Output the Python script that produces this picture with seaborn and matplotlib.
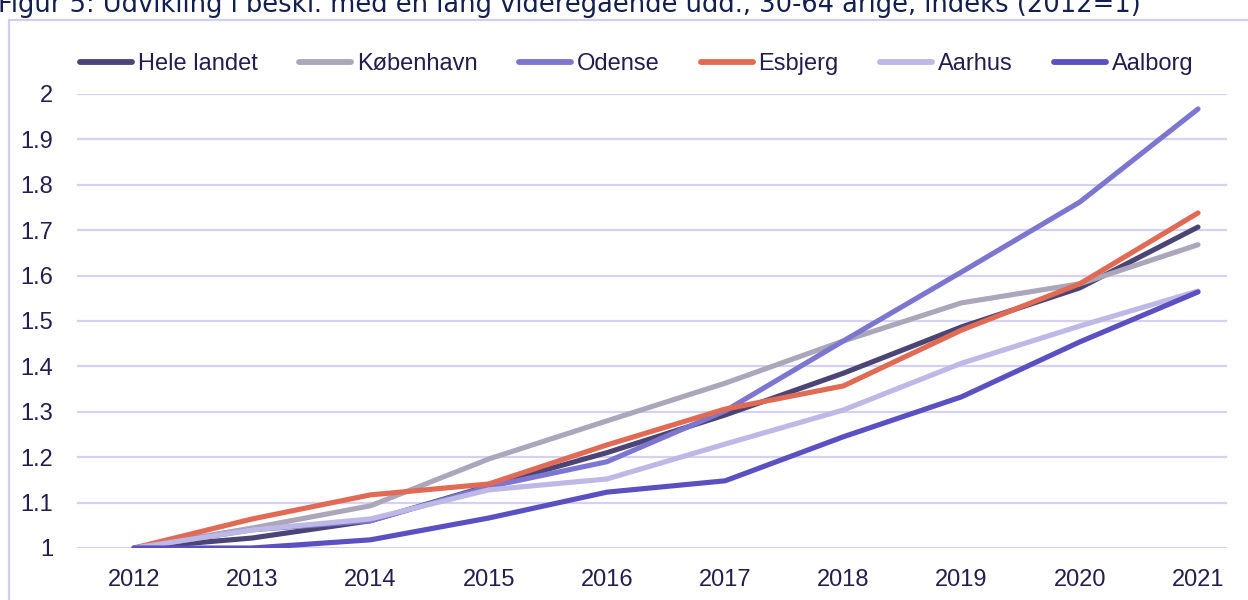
import numpy as np
import pandas as pd
import seaborn as sns
import matplotlib.pyplot as plt
from matplotlib.patches import Rectangle
from matplotlib.lines import Line2D
from matplotlib.ticker import FuncFormatter

# Data (index, 2012 = 1)
years = [2012, 2013, 2014, 2015, 2016, 2017, 2018, 2019, 2020, 2021]
hele_landet = [1.000, 1.022, 1.060, 1.137, 1.210, 1.293, 1.385, 1.487, 1.573, 1.707]
koebenhavn = [1.000, 1.044, 1.093, 1.196, 1.280, 1.363, 1.456, 1.540, 1.582, 1.668]
odense = [1.000, 1.040, 1.060, 1.135, 1.190, 1.302, 1.456, 1.608, 1.762, 1.967]
esbjerg = [1.000, 1.064, 1.117, 1.141, 1.227, 1.306, 1.357, 1.480, 1.582, 1.738]
aarhus = [1.000, 1.040, 1.064, 1.128, 1.152, 1.229, 1.304, 1.407, 1.489, 1.566]
aalborg = [1.000, 1.000, 1.018, 1.066, 1.123, 1.148, 1.245, 1.333, 1.454, 1.564]

series_names = ["Hele landet", "København", "Odense", "Esbjerg", "Aarhus", "Aalborg"]
series_values = [hele_landet, koebenhavn, odense, esbjerg, aarhus, aalborg]
colors = ["#4B4576", "#ABA6BA", "#7D76D0", "#E06A54", "#BDB8E5", "#5B50C2"]

title = "Figur 5: Udvikling i beskf. med en lang videregående udd., 30-64 årige, indeks (2012=1)"

df = pd.concat(
    [pd.DataFrame({"year": years, "value": v, "area": n}) for n, v in zip(series_names, series_values)],
    ignore_index=True,
)

sns.set_style("white")
plt.rcParams['font.family'] = ['Liberation Sans', 'DejaVu Sans']
text_col = "#221E4E"

fig = plt.figure(figsize=(12.48, 6), dpi=100)
ax = fig.add_axes([77 / 1248, 52 / 600, 1150 / 1248, 454 / 600])

palette = dict(zip(series_names, colors))
sns.lineplot(data=df, x="year", y="value", hue="area", palette=palette, hue_order=series_names,
             linewidth=3.7, ax=ax, legend=False, solid_capstyle="round", solid_joinstyle="round")

ax.set_xlim(2011.518, 2021.245)
ax.set_ylim(1, 2)
ax.set_xticks(years)
ax.set_yticks(np.arange(1.0, 2.01, 0.1))
ax.yaxis.set_major_formatter(FuncFormatter(lambda v, p: f"{round(v, 1):g}"))
ax.grid(axis="y", color="#D6D1F2", linewidth=1.6)
ax.grid(axis="x", visible=False)
ax.set_axisbelow(True)
for s in ax.spines.values():
    s.set_visible(False)
ax.tick_params(axis="both", length=0, labelsize=17, colors=text_col)
ax.tick_params(axis="y", pad=17)
ax.tick_params(axis="x", pad=15)
ax.set_xlabel("")
ax.set_ylabel("")

# legend on top
handles = [Line2D([0], [0], color=c, linewidth=4.2, solid_capstyle="round") for c in colors]
leg = fig.legend(handles, series_names, loc="center left", bbox_to_anchor=(80 / 1248, 1 - 64 / 600),
                 ncol=6, frameon=False, fontsize=17, handlelength=2.2, handletextpad=0.25,
                 columnspacing=1.75, borderpad=0, borderaxespad=0)
for t in leg.get_texts():
    t.set_color(text_col)

# figure frame (cut off like the reference)
fig.patches.append(Rectangle((9 / 1248, -0.1), 1.2, 1.1 - 20 / 600, transform=fig.transFigure,
                             fill=False, edgecolor="#D2CEF0", linewidth=1.6))

# title, cut off at the top edge as in the reference
fig.text(-0.002, 1 - 3 / 600, title, fontsize=18.5, color="#13204F", ha="left", va="center",
         family="DejaVu Sans")

fig.savefig("out.png", dpi=100)
